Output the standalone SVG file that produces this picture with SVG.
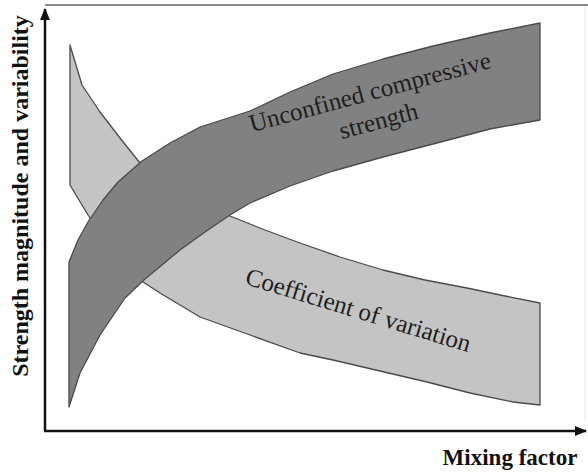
<svg xmlns="http://www.w3.org/2000/svg" width="588" height="473" viewBox="0 0 588 473">
<style>
.band{stroke:#4a4a4a;stroke-width:1.3;stroke-linejoin:round}
.light{fill:#c4c4c4}
.dark{fill:#818181}
.lbl{font-family:"Liberation Serif","Times New Roman",serif;font-size:25px;fill:#1e1e1e;text-anchor:middle}
.axl{font-family:"Liberation Serif","Times New Roman",serif;font-weight:bold;fill:#111;text-anchor:middle}
.axis{stroke:#111;stroke-width:2.5;fill:none}
</style>
<defs>
<marker id="arr" markerWidth="12" markerHeight="10" refX="11" refY="5" orient="auto" markerUnits="userSpaceOnUse">
<path d="M0,0 L12,5 L0,10 Z" fill="#111"/>
</marker>
</defs>
<rect width="588" height="473" fill="#fff"/>
<g id="frame">
<line x1="45" y1="5" x2="588" y2="5" stroke="#8a8a8a" stroke-width="2"/>
<line x1="585" y1="6" x2="585" y2="420" stroke="#e4e4e4" stroke-width="1"/>
</g>
<g id="cov">
<path class="band light" d="M70,45 L82,85 L100,112 L120,138 L140,163 L170,190 L200,205 L230,216 L265,230 L300,243 L340,257 L383,270 L425,280 L467,288 L505,296 L540,303 L540,405 L513,402 L470,393 L427,382 L380,371 L333,360 L300,353 L250,335 L200,317 L160,293 L143,282 L120,255 L100,232 L88,215 L70,185 Z"/>
<text class="lbl" transform="translate(356,318) rotate(17)">Coefficient of variation</text>
</g>
<g id="ucs">
<path class="band dark" d="M69,262 L78,240 L88,222 L103,200 L118,182 L142,161 L170,143 L200,127 L250,111 L290,92 L333,74 L383,59 L433,46 L490,33 L540,23 L540,120 L490,129 L433,144 L383,157 L333,171 L290,186 L250,203 L230,215 L205,232 L180,250 L145,279 L125,298 L100,335 L80,373 L69,407 Z"/>
<g transform="translate(372,100) rotate(-15)">
<text class="lbl" x="0" y="0">Unconfined compressive</text>
<text class="lbl" x="1" y="30">strength</text>
</g>
</g>
<g id="connectors">
<path class="axis" d="M45,431 L45,9" marker-end="url(#arr)"/>
<path class="axis" d="M44,431 L586,431" marker-end="url(#arr)"/>
</g>
<g id="labels">
<text class="axl" font-size="23" x="510" y="465">Mixing factor</text>
<text class="axl" font-size="24" transform="translate(28,196) rotate(-90)">Strength magnitude and variability</text>
</g>
</svg>
